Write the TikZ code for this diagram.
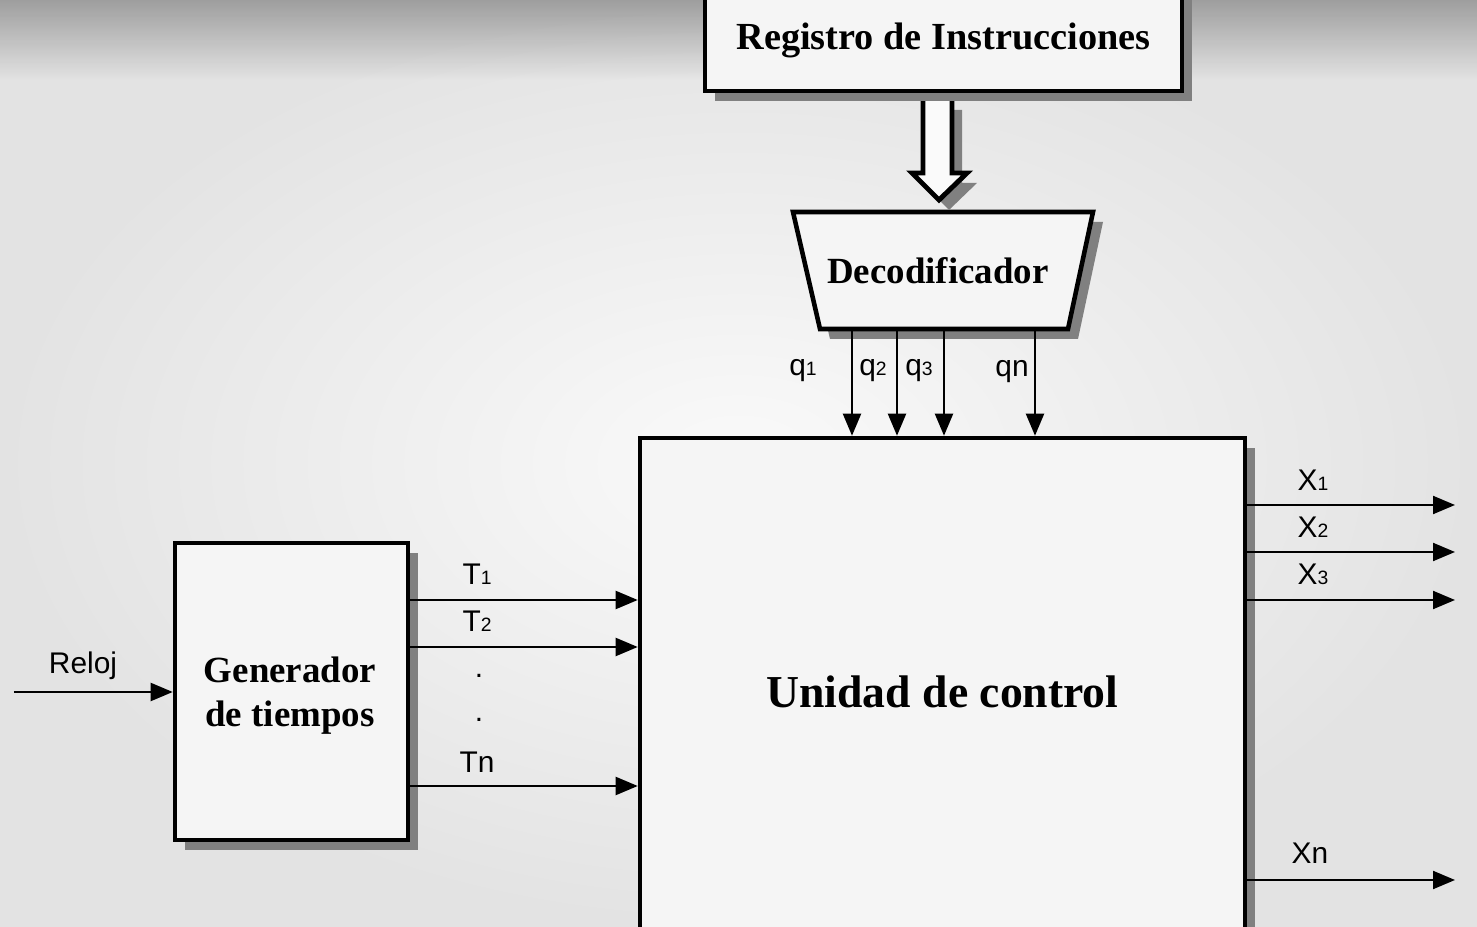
\documentclass[tikz,border=0pt]{standalone}
\usepackage{fontspec}
\setmainfont{Liberation Serif}
\setsansfont{Liberation Sans}
\usepackage{tikz}
\usetikzlibrary{arrows.meta,calc,positioning,shapes,shadows,fadings}
\newcommand{\ix}[1]{{\fontsize{5.5}{6}\selectfont #1}}

\begin{document}
\begin{tikzpicture}[x=1cm, y=-1cm,
		sombra/.style={drop shadow={shadow xshift=0.1cm, shadow yshift=-0.1cm, fill=black!50, opacity=1}},
		bloque/.style={rectangle, draw, line width=1.3pt, fill=black!4, sombra, align=center,
			font=\bfseries\fontsize{10.5}{12.5}\selectfont},
		decod/.style={draw, line width=1.3pt, fill=black!4, line join=miter, sombra},
		texto/.style={font=\bfseries\fontsize{10.5}{12.5}\selectfont},
		bus/.style={line width=1.4pt, fill=black!2, line join=miter, sombra},
		senal/.style={-{Triangle[length=0.22cm, width=0.18cm]}, line width=0.6pt},
		etiq/.style={font=\sffamily\fontsize{8.5}{10}\selectfont, inner sep=0pt}
		]

		% --- Fondo ---
		\shade[inner color=black!2, outer color=black!11] (0,0) rectangle (14.77,9.27);
		\fill[black, opacity=0.3, path fading=south] (0,0) rectangle (14.77,0.8);
		\useasboundingbox (0,0) rectangle (14.77,9.27);

		% --- Decodificador ---
		\draw[decod] (7.93,2.12) coordinate (dtl) -- (10.93,2.12) coordinate (dtr)
			-- (10.68,3.29) coordinate (dbr) -- (8.20,3.29) coordinate (dbl) -- cycle;
		\coordinate (dtop) at ($(dtl)!0.5!(dtr)$);
		\node[texto] (dec) at (9.38,2.71) {Decodificador};

		% bus ancho
		\draw[bus] ($(dtop)+(-0.20,-1.12)$) -- ++(0,0.73) -- ++(-0.11,0) -- ++(0.27,0.27)
			-- ++(0.28,-0.27) -- ++(-0.15,0) -- ++(0,-0.73);

		% --- Bloques ---
		\node[bloque, minimum width=4.77cm, minimum height=1.01cm,
			font=\bfseries\fontsize{10.9}{13}\selectfont] (reg) at (9.435,0.405) {Registro de Instrucciones};
		\node[bloque, minimum width=6.05cm, minimum height=5.08cm,
			font=\bfseries\fontsize{13}{15}\selectfont] (uc) at (9.425,6.92) {Unidad de control};
		\node[bloque, minimum width=2.33cm, minimum height=2.97cm] (gen) at (2.915,6.915) {};
		\node[texto, align=center] (gtxt) at (2.90,6.96) {Generador\\de tiempos};

		% Extremos libres
		\coordinate (clk) at (0.14,6.92);
		\coordinate (x1) at (14.55,5.05);
		\coordinate (x2) at (14.55,5.52);
		\coordinate (x3) at (14.55,6.00);
		\coordinate (xn) at (14.55,8.80);

		% Lineas q
		\foreach \x in {8.52,8.97,9.44,10.35}
			\draw[senal] (dbl -| \x,0) -- (uc.north -| \x,0);
		\node[etiq] (q1) at (8.03,3.71) {q\ix{1}};
		\node[etiq] (q2) at (8.73,3.71) {q\ix{2}};
		\node[etiq] (q3) at (9.19,3.71) {q\ix{3}};
		\node[etiq] (qn) at (10.12,3.72) {qn};

		% Reloj y tiempos
		\draw[senal] (clk) -- (gen.west |- clk);
		\node[etiq] (reloj) at (0.83,6.66) {Reloj};
		\foreach \y in {6.00,6.47,7.86}
			\draw[senal] (gen.east |- 0,\y) -- (uc.west |- 0,\y);
		\node[etiq] (t1) at (4.77,5.74) {T\ix{1}};
		\node[etiq] (t2) at (4.77,6.21) {T\ix{2}};
		\node[etiq] (p1) at (4.79,6.76) {.};
		\node[etiq] (p2) at (4.79,7.20) {.};
		\node[etiq] (tn) at (4.77,7.62) {Tn};

		% Salidas X
		\draw[senal] (uc.east |- x1) -- (x1);
		\draw[senal] (uc.east |- x2) -- (x2);
		\draw[senal] (uc.east |- x3) -- (x3);
		\draw[senal] (uc.east |- xn) -- (xn);
		\node[etiq] (lx1) at (13.13,4.80) {X\ix{1}};
		\node[etiq] (lx2) at (13.13,5.27) {X\ix{2}};
		\node[etiq] (lx3) at (13.13,5.74) {X\ix{3}};
		\node[etiq] (lxn) at (13.10,8.53) {Xn};

	\end{tikzpicture}
\end{document}
